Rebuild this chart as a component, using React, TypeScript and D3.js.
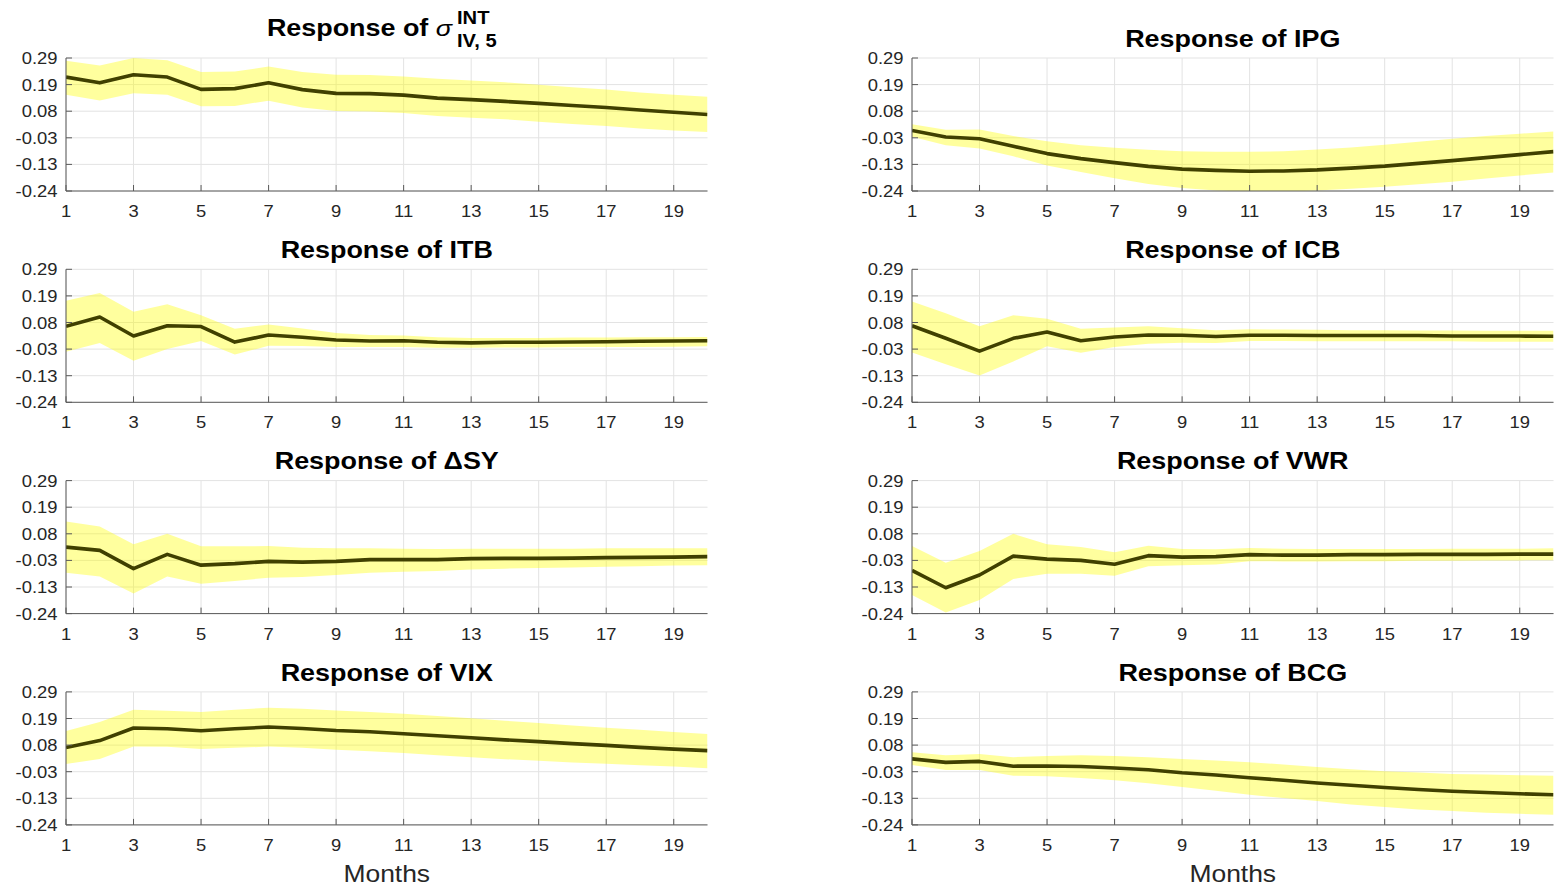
import React from 'react';
import * as d3 from 'd3';

// horizon (months) and tick labels
const months = [1, 2, 3, 4, 5, 6, 7, 8, 9, 10, 11, 12, 13, 14, 15, 16, 17, 18, 19, 20];
const xTickMonths = [1, 3, 5, 7, 9, 11, 13, 15, 17, 19];
const yTickLabels = ['-0.24', '-0.13', '-0.03', '0.08', '0.19', '0.29'];
const yMin = -0.24;
const yMax = 0.29;

// sigma IV,5 INT
const sigmaIrf = [0.214, 0.191, 0.223, 0.214, 0.165, 0.168, 0.191, 0.164, 0.149, 0.148, 0.142, 0.130, 0.124, 0.117, 0.109, 0.101, 0.093, 0.083, 0.074, 0.065];
const sigmaUp = [0.279, 0.260, 0.290, 0.281, 0.234, 0.236, 0.256, 0.234, 0.223, 0.222, 0.216, 0.207, 0.200, 0.193, 0.183, 0.173, 0.164, 0.153, 0.144, 0.136];
const sigmaLo = [0.144, 0.121, 0.150, 0.144, 0.098, 0.099, 0.120, 0.093, 0.079, 0.077, 0.071, 0.059, 0.052, 0.046, 0.036, 0.027, 0.019, 0.009, 0.001, -0.005];

// IPG
const ipgIrf = [0.001, -0.025, -0.032, -0.062, -0.091, -0.111, -0.127, -0.142, -0.153, -0.158, -0.161, -0.160, -0.156, -0.149, -0.141, -0.130, -0.119, -0.107, -0.095, -0.083];
const ipgUp = [0.026, 0.004, 0.005, -0.021, -0.042, -0.058, -0.068, -0.076, -0.082, -0.084, -0.084, -0.082, -0.075, -0.067, -0.056, -0.044, -0.032, -0.021, -0.012, -0.003];
const ipgLo = [-0.024, -0.058, -0.071, -0.102, -0.138, -0.164, -0.189, -0.212, -0.228, -0.238, -0.243, -0.243, -0.238, -0.231, -0.223, -0.213, -0.203, -0.190, -0.178, -0.166];

// ITB
const itbIrf = [0.063, 0.100, 0.024, 0.065, 0.062, 0.000, 0.028, 0.019, 0.008, 0.004, 0.005, -0.001, -0.003, -0.001, -0.001, 0.000, 0.001, 0.003, 0.004, 0.005];
const itbUp = [0.165, 0.196, 0.121, 0.151, 0.107, 0.053, 0.070, 0.054, 0.036, 0.028, 0.026, 0.019, 0.016, 0.016, 0.016, 0.018, 0.018, 0.019, 0.019, 0.020];
const itbLo = [-0.039, -0.004, -0.074, -0.028, 0.004, -0.050, -0.015, -0.016, -0.020, -0.020, -0.020, -0.023, -0.023, -0.022, -0.022, -0.020, -0.020, -0.020, -0.019, -0.017];

// ICB
const icbIrf = [0.065, 0.015, -0.036, 0.015, 0.040, 0.005, 0.020, 0.028, 0.027, 0.022, 0.027, 0.027, 0.026, 0.026, 0.026, 0.026, 0.024, 0.024, 0.024, 0.023];
const icbUp = [0.162, 0.115, 0.063, 0.107, 0.093, 0.053, 0.058, 0.063, 0.055, 0.047, 0.051, 0.050, 0.049, 0.047, 0.047, 0.046, 0.046, 0.045, 0.045, 0.045];
const icbLo = [-0.042, -0.088, -0.133, -0.077, -0.017, -0.043, -0.020, -0.007, -0.003, -0.004, 0.004, 0.004, 0.003, 0.003, 0.003, 0.003, 0.003, 0.001, 0.001, 0.001];

// Delta SY
const dsyIrf = [0.025, 0.012, -0.061, -0.004, -0.047, -0.041, -0.032, -0.035, -0.032, -0.025, -0.025, -0.025, -0.021, -0.020, -0.020, -0.019, -0.017, -0.016, -0.015, -0.013];
const dsyUp = [0.127, 0.107, 0.036, 0.078, 0.028, 0.028, 0.029, 0.022, 0.020, 0.020, 0.018, 0.017, 0.018, 0.018, 0.018, 0.018, 0.020, 0.020, 0.020, 0.020];
const dsyLo = [-0.077, -0.092, -0.160, -0.092, -0.121, -0.110, -0.097, -0.094, -0.086, -0.077, -0.073, -0.070, -0.064, -0.061, -0.058, -0.056, -0.053, -0.051, -0.048, -0.047];

// VWR
const vwrIrf = [-0.068, -0.137, -0.086, -0.011, -0.023, -0.028, -0.043, -0.009, -0.015, -0.013, -0.005, -0.007, -0.007, -0.005, -0.005, -0.004, -0.004, -0.004, -0.003, -0.003];
const vwrUp = [0.029, -0.037, 0.009, 0.078, 0.036, 0.025, 0.004, 0.030, 0.017, 0.016, 0.021, 0.018, 0.017, 0.017, 0.017, 0.017, 0.018, 0.018, 0.018, 0.020];
const vwrLo = [-0.166, -0.236, -0.186, -0.102, -0.081, -0.081, -0.089, -0.051, -0.047, -0.044, -0.031, -0.032, -0.032, -0.031, -0.031, -0.029, -0.029, -0.028, -0.028, -0.027];

// VIX
const vixIrf = [0.068, 0.096, 0.146, 0.143, 0.135, 0.143, 0.150, 0.144, 0.136, 0.131, 0.123, 0.115, 0.107, 0.099, 0.092, 0.084, 0.077, 0.069, 0.062, 0.056];
const vixUp = [0.134, 0.170, 0.219, 0.215, 0.210, 0.219, 0.227, 0.223, 0.216, 0.210, 0.203, 0.194, 0.185, 0.175, 0.166, 0.156, 0.147, 0.139, 0.130, 0.122];
const vixLo = [0.003, 0.023, 0.072, 0.071, 0.062, 0.067, 0.072, 0.067, 0.059, 0.053, 0.047, 0.038, 0.030, 0.022, 0.016, 0.009, 0.004, -0.002, -0.007, -0.014];

// BCG
const bcgIrf = [0.023, 0.009, 0.013, -0.006, -0.005, -0.007, -0.013, -0.020, -0.032, -0.041, -0.052, -0.062, -0.073, -0.082, -0.091, -0.099, -0.106, -0.111, -0.116, -0.120];
const bcgUp = [0.050, 0.038, 0.043, 0.030, 0.035, 0.038, 0.035, 0.030, 0.023, 0.017, 0.010, 0.001, -0.009, -0.018, -0.026, -0.031, -0.037, -0.039, -0.042, -0.044];
const bcgLo = [-0.001, -0.021, -0.021, -0.044, -0.046, -0.053, -0.062, -0.074, -0.089, -0.104, -0.120, -0.133, -0.145, -0.159, -0.169, -0.179, -0.185, -0.192, -0.196, -0.200];

const panels = [
  { name: 'sigma', mean: sigmaIrf, up: sigmaUp, lo: sigmaLo },
  { name: 'IPG', mean: ipgIrf, up: ipgUp, lo: ipgLo },
  { name: 'ITB', mean: itbIrf, up: itbUp, lo: itbLo },
  { name: 'ICB', mean: icbIrf, up: icbUp, lo: icbLo },
  { name: '\u0394SY', mean: dsyIrf, up: dsyUp, lo: dsyLo },
  { name: 'VWR', mean: vwrIrf, up: vwrUp, lo: vwrLo },
  { name: 'VIX', mean: vixIrf, up: vixUp, lo: vixLo },
  { name: 'BCG', mean: bcgIrf, up: bcgUp, lo: bcgLo },
];

const W = 1566;
const H = 889;
const colX = [66, 912];
const plotW = 641.5;
const plotH = 133;
const rowY = [58, 269.3, 480.6, 691.9];
const FONT = '"Liberation Sans", Arial, Helvetica, sans-serif';
const STRETCH = 1.15;

function Panel({ p, idx }: { p: any; idx: number }) {
  const col = idx % 2;
  const row = Math.floor(idx / 2);
  const x0 = colX[col];
  const y0 = rowY[row];

  const x = d3.scaleLinear().domain([1, 20]).range([0, plotW]);
  const y = d3.scaleLinear().domain([yMin, yMax]).range([plotH, 0]);
  const yTicks = yTickLabels.map((_, i) => yMin + (i * (yMax - yMin)) / (yTickLabels.length - 1));

  const band = d3.area<number>()
    .x((d, i) => x(months[i]))
    .y0((d, i) => y(p.lo[i]))
    .y1((d, i) => y(p.up[i]));
  const line = d3.line<number>()
    .x((d, i) => x(months[i]))
    .y((d) => y(d));

  const clipId = `clip-${idx}`;

  return (
    <g transform={`translate(${x0},${y0})`}>
      <defs>
        <clipPath id={clipId}>
          <rect x={0} y={0} width={plotW} height={plotH} />
        </clipPath>
      </defs>
      {/* grid */}
      {xTickMonths.map((m) => (
        <line key={'gx' + m} x1={x(m)} x2={x(m)} y1={0} y2={plotH} stroke="#e3e3e3" strokeWidth={1} />
      ))}
      {yTicks.map((t, i) => (
        <line key={'gy' + i} x1={0} x2={plotW} y1={y(t)} y2={y(t)} stroke="#e3e3e3" strokeWidth={1} />
      ))}
      {/* confidence band and response */}
      <g clipPath={`url(#${clipId})`}>
        <path d={band(p.mean) || ''} fill="#ffff00" fillOpacity={0.38} stroke="none" />
        <path d={line(p.mean) || ''} fill="none" stroke="#404000" strokeWidth={3.6} strokeLinejoin="round" />
      </g>
      {/* axes */}
      <line x1={0} x2={0} y1={0} y2={plotH} stroke="#5a5a5a" strokeWidth={1} />
      <line x1={0} x2={plotW} y1={plotH} y2={plotH} stroke="#5a5a5a" strokeWidth={1} />
      {yTicks.map((t, i) => (
        <line key={'ty' + i} x1={0} x2={6} y1={y(t)} y2={y(t)} stroke="#5a5a5a" strokeWidth={1} />
      ))}
      {xTickMonths.map((m) => (
        <line key={'tx' + m} x1={x(m)} x2={x(m)} y1={plotH} y2={plotH - 6} stroke="#5a5a5a" strokeWidth={1} />
      ))}
      {yTicks.map((t, i) => (
        <text key={'ly' + i} transform={`translate(-8.5,${y(t) + 6}) scale(${STRETCH},1)`}
          textAnchor="end" fontSize={16} fill="#262626" fontFamily={FONT}>
          {yTickLabels[i]}
        </text>
      ))}
      {xTickMonths.map((m) => (
        <text key={'lx' + m} transform={`translate(${x(m)},${plotH + 26}) scale(${STRETCH},1)`}
          textAnchor="middle" fontSize={16} fill="#262626" fontFamily={FONT}>
          {m}
        </text>
      ))}
      {/* title */}
      {idx === 0 ? (
        <g fontFamily={FONT} fill="#000">
          <text transform={`translate(386,-22) scale(1.17,1)`} textAnchor="end" fontSize={23} fontWeight="bold">
            Response of <tspan fontStyle="italic" fontWeight="normal">σ</tspan>
          </text>
          <text transform={`translate(391,-34) scale(1.12,1)`} fontSize={18} fontWeight="bold">INT</text>
          <text transform={`translate(391,-11.5) scale(1.12,1)`} fontSize={18} fontWeight="bold">IV, 5</text>
        </g>
      ) : (
        <text transform={`translate(${plotW / 2},-11.3) scale(1.17,1)`} textAnchor="middle"
          fontSize={23} fontWeight="bold" fontFamily={FONT} fill="#000">
          {'Response of ' + p.name}
        </text>
      )}
      {row === 3 && (
        <text transform={`translate(${plotW / 2},${plotH + 57}) scale(${STRETCH},1)`} textAnchor="middle"
          fontSize={23} fill="#262626" fontFamily={FONT}>
          Months
        </text>
      )}
    </g>
  );
}

export default function App() {
  return (
    <svg width={W} height={H} viewBox={`0 0 ${W} ${H}`}
      style={{ position: 'absolute', left: 0, top: 0, background: '#fff' }}>
      <rect x={0} y={0} width={W} height={H} fill="#fff" />
      {panels.map((p, i) => (
        <Panel key={p.name} p={p} idx={i} />
      ))}
    </svg>
  );
}
